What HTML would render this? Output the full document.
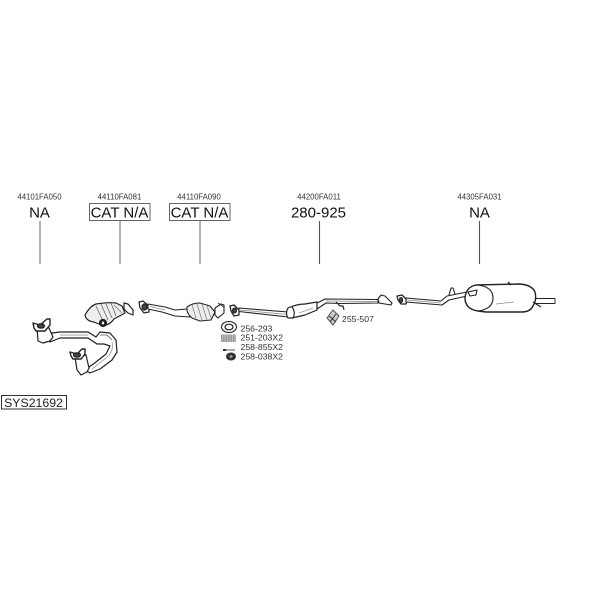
<!DOCTYPE html>
<html><head><meta charset="utf-8"><style>
html,body{margin:0;padding:0;background:#fff}
svg{display:block;font-family:"Liberation Sans",sans-serif;filter:blur(.3px)}
</style></head><body>
<svg width="600" height="600" viewBox="0 0 600 600" xmlns="http://www.w3.org/2000/svg">
<rect width="600" height="600" fill="#fff"/>
<g fill="#333" font-size="7.8" text-anchor="middle">
<text x="39.500" y="199.500">44101FA050</text>
<text x="119.500" y="199.500">44110FA081</text>
<text x="199" y="199.500">44110FA090</text>
<text x="319" y="199.500">44200FA011</text>
<text x="479.500" y="199.500">44305FA031</text>
</g>
<g fill="#111" font-size="15" text-anchor="middle">
<text x="39.500" y="217.500">NA</text>
<text x="119.500" y="217.500">CAT N/A</text>
<text x="199.500" y="217.500">CAT N/A</text>
<text x="318.500" y="217.500">280-925</text>
<text x="479.500" y="217.500">NA</text>
</g>
<g fill="none" stroke="#666" stroke-width="1">
<rect x="89.500" y="203.500" width="60.500" height="17"/>
<rect x="169.500" y="203.500" width="60.500" height="17"/>
<rect x="1.500" y="395.500" width="65" height="13.500" stroke="#333"/>
</g>
<g stroke="#777" stroke-width="1.100">
<path d="M40 221V264M120 221V264M200 221V264"/>
<path d="M319.500 221V264M479.500 221V264" stroke="#555"/>
</g>
<text x="33.500" y="407" font-size="12.300" fill="#222" text-anchor="middle">SYS21692</text>

<g fill="#333" font-size="8.700">
<text x="240.500" y="331.700">256-293</text>
<text x="240.500" y="340.700">251-203X2</text>
<text x="240.500" y="350">258-855X2</text>
<text x="240.500" y="359.300">258-038X2</text>
<text x="342" y="322">255-507</text>
</g>

<!-- Manifold -->
<g stroke="#222" stroke-width="1.200" fill="#fff" stroke-linejoin="round">
<path d="M52 333 L60 332 L88 332 L96 337 L100 332 L110 333 L116 340 L117 352 L112 360 L100 369 L90 373 L85 370 L96 362 L106 354 L110 346 L104 344 L97 344 L88 338 L60 338 L50 342Z"/>
<path d="M60 335 L88 335M112 342 Q114 352 106 358 L92 369" stroke="#888" stroke-width=".7" fill="none"/>
<path d="M100 335 L107 335 L112 340" stroke="#555" stroke-width=".8" fill="none"/>
<path d="M37 328 L49 328 L53 337 L50 341 L43 343 L38 341Z"/>
<path d="M33 323 L40 325 L47 319 L50 319 L50 325 L45 331 L36 331 L34 328Z" stroke-width="1.400"/>
<ellipse cx="41" cy="326" rx="3.500" ry="2.200" fill="#444"/>
<path d="M75 357 L86 355 L89 368 L87 372 L81 375 L77 370Z"/>
<path d="M70 352 L77 354 L82 349 L85 349 L85 354 L81 359 L73 359 L71 356Z" stroke-width="1.400"/>
<ellipse cx="77" cy="355" rx="3.500" ry="2.200" fill="#444"/>
</g>

<!-- First catalyst -->
<g stroke="#222" stroke-width="1.200" fill="#eee" stroke-linejoin="round">
<path d="M85 315 Q90 306 96 304 Q108 302 116 303 L122 306 L125 313 L114 319 Q108 327 101 325 L94 322 Q86 321 85 315Z"/>
<path d="M124 303 L128 304 L133 310 L133 315 L128 313 L124 309Z" fill="#fff"/>
<path d="M96 306L103 321M101 304L108 320M106 304L112 318M111 303L116 316" stroke="#666" stroke-width=".8" fill="none"/>
<path d="M114 305L122 313" stroke="#777" stroke-width=".8" fill="none"/>
<ellipse cx="103" cy="323" rx="3.500" ry="3.500" fill="#222"/>
<ellipse cx="103" cy="323" rx="1.200" ry="1.500" fill="#fff" stroke="none"/>
</g>
<g stroke="#222" fill="#fff" stroke-width="1.200">
<path d="M139 302 L143 301 L149 306 L149 312 L144 313 L140 308Z"/>
<ellipse cx="144.500" cy="307" rx="2.500" ry="3" fill="#444"/>
</g>

<!-- Second catalyst section -->
<g stroke="#222" stroke-width="1.100" fill="#fff" stroke-linejoin="round">
<path d="M148 304 L165 307 L175 310 L188 309 L190 317 L175 316 L162 312 L148 309Z"/>
<path d="M150 306.500 L165 310" stroke="#888" stroke-width=".7" fill="none"/>
<path d="M187 307 Q192 303 200 303 L210 306 L215 312 L211 320 L200 321 L192 318 Q186 313 187 307Z" fill="#eee"/>
<path d="M197 304L202 320M202 304L207 320M207 306L211 318M192 305L196 318" stroke="#777" stroke-width=".7" fill="none"/>
<path d="M215 308 L221 304 L224 305 L224 313 L218 318 L215 315Z"/>
</g>
<path d="M218 303 L224 307" stroke="#333"/>

<!-- Gasket -->
<g stroke="#222" fill="#fff">
<ellipse cx="229" cy="327" rx="7.500" ry="5.500" stroke-width="1.100"/>
<ellipse cx="229" cy="327" rx="4" ry="2.800" stroke-width="1.200"/>
</g>
<rect x="221" y="334.500" width="15" height="7.500" fill="#999"/>
<path d="M222.500 334.500V342M225 334.500V342M227.500 334.500V342M230 334.500V342M232.500 334.500V342M235 334.500V342" stroke="#ddd" stroke-width=".6"/>
<path d="M224 350H235" stroke="#555" stroke-width="1"/>
<rect x="223" y="349" width="3" height="2" fill="#333"/>
<ellipse cx="231" cy="356.500" rx="5" ry="4" fill="#333"/>
<ellipse cx="231" cy="356.500" rx="1.500" ry="1.200" fill="#aaa"/>

<!-- Middle pipe -->
<g stroke="#222" stroke-width="1.100" fill="#fff" stroke-linejoin="round">
<path d="M230 306 L234 305 L239 310 L239 315 L234 316 L231 311Z" stroke-width="1.300"/>
<ellipse cx="234.500" cy="310.500" rx="2" ry="2.500" fill="#444"/>
<path d="M239 308 L288 312 L288 317 L239 311.500Z"/>
<path d="M240 310 L287 314.500" stroke="#888" stroke-width=".7" fill="none"/>
<path d="M288 308 Q297 304 305 304 L317 302 L317 310 L305 315 L292 318 L288 318 Q285 313 288 308Z" stroke-width="1.200"/>
<path d="M292 307 Q296 312 293 318" fill="none"/>
<path d="M299 313 L313 308" stroke="#999" stroke-width=".7" fill="none"/>
<path d="M317 303 L325 299 L378 299.500 L378 303 L340 303.500 L326 303 L317 309Z"/>
<path d="M326 301 L378 301.500" stroke="#888" stroke-width=".7" fill="none"/>
<path d="M336 302 L340 306 L343 306 L344 310" fill="none" stroke-width="1.200"/>
<path d="M378 299 L381 295 L385 296 L392 303 L391 305 L385 304 L379 303Z"/>
</g>

<!-- Clamp 255-507 -->
<g fill="none" stroke="#555" stroke-width="1">
<path d="M333 310 L339 316 L333 325 L327 318Z" fill="#ccc"/>
<path d="M329 316 L336 322M336 314 L330 322" stroke="#333"/>
</g>

<!-- Muffler -->
<g stroke="#222" stroke-width="1.100" fill="#fff" stroke-linejoin="round">
<path d="M397 296 L402 295 L407 300 L406 304 L401 304 L398 300Z" stroke-width="1.300"/>
<ellipse cx="401" cy="300" rx="1.600" ry="2.500" fill="#444"/>
<path d="M406 298 L441 301 L447 296 L472 291 L476 294 L449 300 L442 305 L406 302Z"/>
<path d="M407 300 L441 303" stroke="#888" stroke-width=".7" fill="none"/>
<path d="M449 295 L451 288 L453 288 L455 294" fill="none"/>
<rect x="535" y="298.500" width="20" height="5" fill="#fff" stroke-width=".9"/>
<path d="M476 285 L520 284 Q532 285 535 292 Q537 300 533 306 Q530 312 522 312 L486 312 L478 311 Q465 309 465 298 Q466 287 476 285Z" stroke-width="1.400"/>
<path d="M478 285 Q493 287 493 298 Q493 309 478 311" fill="none" stroke-width="1.100"/>
<path d="M496 304 L514 302" stroke="#888" stroke-width=".7" fill="none"/>
<path d="M508 282 L511 285M533 302 L541 307" fill="none" stroke-width="1.300"/>
<path d="M468 292 L477 290 L476 295 L470 296Z"/>
</g>
</svg>
</body></html>
